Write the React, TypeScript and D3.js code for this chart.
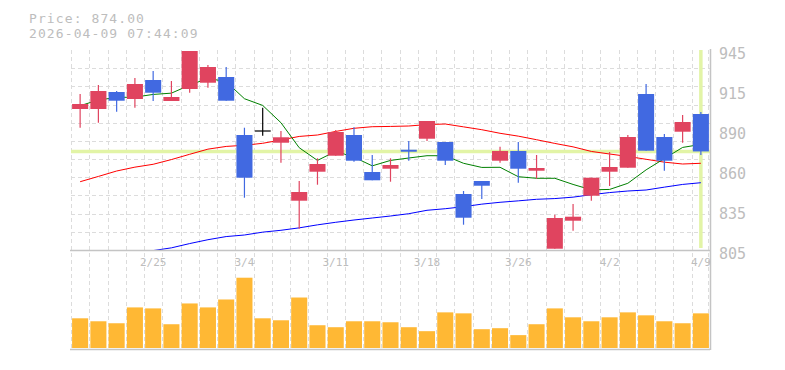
import React, { useEffect } from 'react';
import * as d3 from 'd3';

// trading days shown (2026)
const dates = [
  '2/18', '2/19', '2/20', '2/24', '2/25', '2/26', '2/27', '3/2', '3/3', '3/4',
  '3/5', '3/6', '3/9', '3/10', '3/11', '3/12', '3/13', '3/16', '3/17', '3/18',
  '3/19', '3/23', '3/24', '3/25', '3/26', '3/27', '3/30', '3/31', '4/1', '4/2',
  '4/3', '4/6', '4/7', '4/8', '4/9',
];
const opens = [903.7, 903.7, 915.6, 910.7, 924.0, 909.3, 917.7, 922.1, 926.1, 885.5, 888.3, 880.1, 839.5, 859.8, 871.0, 885.5, 859.6, 861.9, 875.2, 882.9, 880.6, 844.2, 853.3, 867.5, 874.3, 860.5, 805.9, 825.5, 843.0, 859.8, 862.6, 914.2, 884.1, 887.8, 900.2];
const highs = [914.2, 920.5, 916.3, 925.4, 930.3, 923.3, 944.3, 934.5, 933.1, 890.6, 904.6, 888.3, 853.3, 869.2, 889.0, 890.9, 871.5, 869.2, 881.3, 895.3, 880.6, 846.3, 853.3, 877.3, 880.6, 871.5, 829.7, 837.2, 855.6, 873.6, 885.5, 921.2, 886.2, 899.5, 901.6];
const lows = [890.6, 894.1, 901.8, 904.6, 909.3, 909.3, 915.1, 918.6, 909.5, 841.6, 885.0, 866.1, 819.9, 850.7, 871.0, 866.8, 853.8, 852.8, 867.5, 881.3, 864.5, 822.7, 840.7, 866.1, 852.1, 854.9, 805.9, 818.5, 839.5, 849.8, 862.6, 874.5, 860.5, 880.1, 871.5];
const closes = [907.2, 916.3, 909.5, 921.2, 915.1, 912.1, 944.3, 933.1, 909.5, 855.6, 888.3, 883.9, 845.6, 865.2, 887.6, 867.5, 853.8, 864.5, 873.8, 895.3, 867.5, 827.6, 850.0, 874.3, 861.9, 862.4, 827.4, 828.3, 855.6, 863.1, 884.1, 874.5, 867.5, 894.6, 874.0];
const volumes = [30, 27, 25, 41, 40, 24, 45, 41, 49, 71, 30, 28, 51, 23, 21, 27, 27, 26, 21, 17, 36, 35, 19, 20, 13, 24, 40, 31, 27, 31, 36, 33, 27, 25, 35];

// moving averages (short / mid / long)
const maShort = [906.0, 910.0, 911.8, 912.0, 913.9, 914.8, 920.4, 925.2, 922.8, 910.9, 906.2, 894.1, 876.6, 867.7, 874.1, 870.0, 863.9, 867.7, 869.4, 871.0, 871.0, 865.7, 862.8, 862.9, 856.3, 855.2, 855.2, 850.9, 847.1, 847.4, 851.7, 861.1, 869.0, 876.8, 878.9];
const maMid = [852.8, 856.5, 860.3, 863.0, 865.0, 868.3, 872.0, 875.6, 877.5, 878.3, 879.7, 882.0, 884.5, 885.5, 888.0, 890.2, 891.3, 891.5, 891.8, 892.8, 893.2, 891.2, 889.2, 886.7, 884.7, 882.2, 879.6, 877.2, 874.0, 872.2, 870.5, 868.5, 866.5, 865.2, 865.7];
const maLong = [null, null, null, null, 804.6, 806.5, 809.5, 812.2, 814.4, 815.5, 817.5, 818.8, 820.5, 822.6, 824.4, 826.0, 827.4, 828.8, 830.4, 832.8, 833.9, 835.3, 837.1, 838.4, 839.4, 840.5, 841.0, 842.0, 843.7, 845.2, 846.3, 847.0, 849.0, 850.9, 852.1];

const yTickValues = [945, 917, 889, 861, 833, 805];
const yTickLabels = ['945', '915', '890', '860', '835', '805'];
const xTickLabels = ['2/25', '3/4', '3/11', '3/18', '3/26', '4/2', '4/9'];
const lastPrice = 874.0;
const timestamp = '2026-04-09 07:44:09';

const W = 785;
const H = 370;
const left = 71;
const right = 710;
const priceTop = 50;
const priceBottom = 250;
const volBottom = 349;

const UP = '#e0445f';
const DOWN = '#4169e1';
const GRID = '#dcdcdc';
const AXIS = '#c4c4c4';
const LABEL = '#bdbdbd';
const LIME = '#e2f4a6';
const MONO = "'DejaVu Sans Mono', monospace";

const App = () => {
  useEffect(() => {
    document.body.style.margin = '0';
    document.body.style.background = '#fff';
  }, []);

  const x = d3.scaleBand<string>()
    .domain(dates)
    .range([left, right])
    .paddingInner(0.12)
    .paddingOuter(0.06);
  const step = x.step();
  const bw = x.bandwidth();
  const cx = (i: number) => (x(dates[i]) as number) + bw / 2;

  const y = d3.scaleLinear().domain([805, 945]).range([priceBottom, priceTop]);
  const vy = d3.scaleLinear().domain([0, 100]).range([volBottom - 1, priceBottom - 1]);

  // grid
  const hGrid = d3.range(0, 11).map(i => 805 + (i * 140) / 11);
  const vGrid = d3.range(0, 35).map(i => left + i * step).concat([right - 2]);

  const lineGen = d3.line<number | null>()
    .defined(d => d != null)
    .x((d, i) => cx(i))
    .y(d => y(d as number))
    .curve(d3.curveLinear);

  const candles = dates.map((d, i) => {
    const o = opens[i];
    const c = closes[i];
    const color = c > o ? UP : c < o ? DOWN : '#000';
    const top = y(Math.max(o, c));
    const bot = y(Math.min(o, c));
    return (
      <g key={d}>
        <line x1={cx(i)} x2={cx(i)} y1={y(highs[i])} y2={y(lows[i])} stroke={color} strokeWidth={1.2} />
        {c === o ? (
          <line x1={x(d) as number} x2={(x(d) as number) + bw} y1={top} y2={top} stroke={color} strokeWidth={1.2} />
        ) : (
          <rect x={x(d) as number} y={top} width={bw} height={Math.max(1, bot - top)} fill={color} />
        )}
      </g>
    );
  });

  return (
    <svg width={W} height={H} style={{ display: 'block', background: '#fff' }}>
      {/* header */}
      <text x={29} y={22.5} fontFamily={MONO} fontSize={13} letterSpacing={1.1} fill={LABEL}>
        {`Price: ${lastPrice.toFixed(2)}`}
      </text>
      <text x={29} y={37.5} fontFamily={MONO} fontSize={13} letterSpacing={1.1} fill={LABEL}>
        {timestamp}
      </text>

      {/* grid */}
      <g stroke={GRID} strokeWidth={1} strokeDasharray="4,3">
        {hGrid.map((v, i) => (
          <line key={'h' + i} x1={left} x2={right} y1={Math.round(y(v)) + 0.5} y2={Math.round(y(v)) + 0.5} />
        ))}
        {vGrid.map((gx, i) => (
          <line key={'v' + i} x1={Math.round(gx) + 0.5} x2={Math.round(gx) + 0.5} y1={priceTop} y2={volBottom} />
        ))}
      </g>

      {/* current price markers */}
      <line x1={left} x2={right} y1={y(lastPrice)} y2={y(lastPrice)} stroke={LIME} strokeWidth={3.5} />
      <line x1={cx(34)} x2={cx(34)} y1={priceTop} y2={priceBottom - 2} stroke={LIME} strokeWidth={3.5} />

      {/* moving averages */}
      <path d={lineGen(maMid) as string} fill="none" stroke="#ff0000" strokeWidth={1} />
      <path d={lineGen(maLong) as string} fill="none" stroke="#0000ff" strokeWidth={1} />
      <path d={lineGen(maShort) as string} fill="none" stroke="#008000" strokeWidth={1} />

      {/* candles */}
      {candles}

      {/* volume */}
      {volumes.map((v, i) => (
        <rect key={'vol' + i} x={x(dates[i]) as number} y={vy(v)} width={bw} height={vy(0) - vy(v)} fill="#ffb834" />
      ))}

      {/* axes frame */}
      <g stroke={AXIS} strokeWidth={1.5}>
        <line x1={left - 1} x2={right} y1={priceBottom + 0.5} y2={priceBottom + 0.5} />
        <line x1={left - 1} x2={right} y1={volBottom + 0.5} y2={volBottom + 0.5} />
        <line x1={right + 0.5} x2={right + 0.5} y1={priceTop - 1} y2={volBottom + 1} />
      </g>

      {/* right price labels */}
      {yTickValues.map((v, i) => (
        <text key={'yl' + i} x={719} y={y(v) + 8.5} fontFamily={MONO} fontSize={15} fill={LABEL}>
          {yTickLabels[i]}
        </text>
      ))}

      {/* date labels */}
      {xTickLabels.map(d => {
        const i = dates.indexOf(d);
        return (
          <text key={'xl' + d} x={cx(i)} y={266} textAnchor="middle" fontFamily={MONO} fontSize={11} fill={LABEL}>
            {d}
          </text>
        );
      })}
    </svg>
  );
};

export default App;
